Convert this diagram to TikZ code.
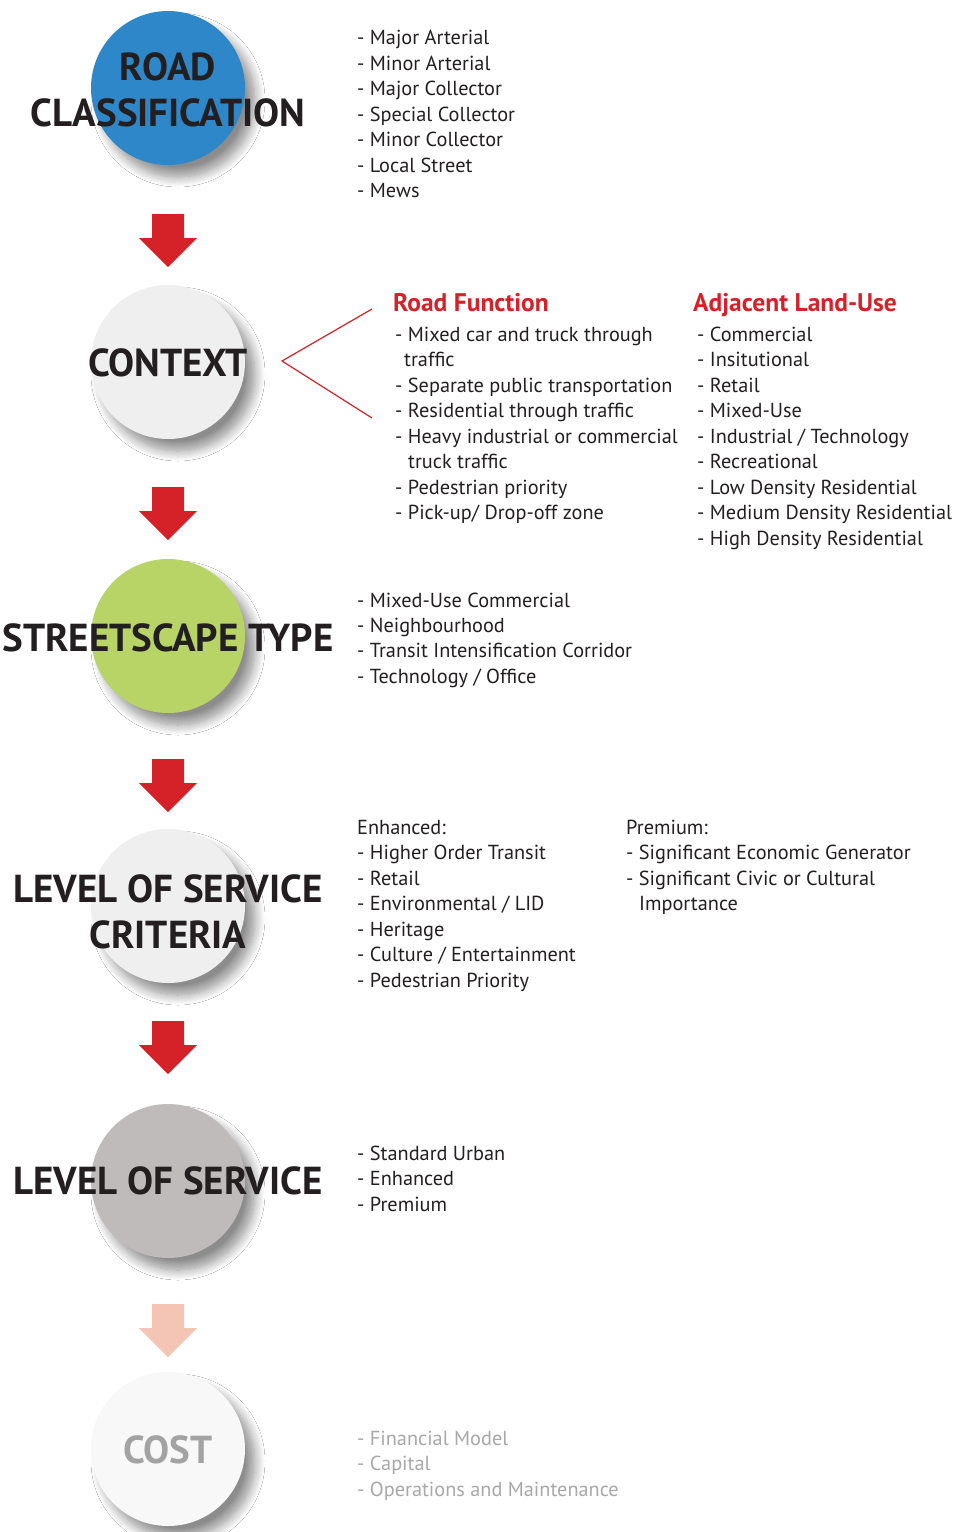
\documentclass[tikz,border=0pt]{standalone}
\usepackage{fontspec}
\setmainfont{PT Sans}
\usetikzlibrary{shadows.blur}
\definecolor{cblue}{HTML}{2E87C8}
\definecolor{cgreen}{HTML}{B8D366}
\definecolor{clight}{HTML}{EFEFEF}
\definecolor{cgray}{HTML}{C0BBBB}
\definecolor{cpale}{HTML}{F8F8F8}
\definecolor{tdark}{HTML}{231F20}
\definecolor{ared}{HTML}{D52229}
\definecolor{apale}{HTML}{F4C4B4}
\definecolor{tgray}{HTML}{A8A8A8}
\definecolor{cgtext}{HTML}{A3A3A3}
\tikzset{
  circ/.style={circle, minimum size=154pt, inner sep=0pt,
    blur shadow={shadow xshift=10pt, shadow yshift=-12pt, shadow blur radius=10pt, shadow blur steps=14, shadow opacity=45}},
  ttl/.style={anchor=base, inner sep=0pt, text=tdark, font=\fontsize{39}{43}\selectfont\bfseries},
  itm/.style={anchor=mid west, inner sep=0pt, text=tdark, font=\fontsize{20.3}{24}\selectfont},
  hdr/.style={anchor=mid west, inner sep=0pt, text=ared, font=\fontsize{25.5}{28}\selectfont\bfseries},
}
\newcommand\blockarrow[2]{\fill[#2] (#1) ++(-16,0) -- ++(32,0) -- ++(0,24) -- ++(13,0) -- ++(-29,29) -- ++(-29,-29) -- ++(13,0) -- cycle;}
\begin{document}
\begin{tikzpicture}[x=1pt,y=-1pt]
\useasboundingbox[fill=white] (0,0) rectangle (964,1532);
% circles
\node[circ, fill=cblue]  (c1) at (168,88) {};
\node[circ, fill=clight] (c2) at (168,362) {};
\node[circ, fill=cgreen] (c3) at (168,636) {};
\node[circ, fill=clight] (c4) at (168,906) {};
\node[circ, fill=cgray]  (c5) at (168,1181) {};
\node[circ, fill=cpale]  (c6) at (168,1449) {};
% titles
\node[ttl] (t1a) at (168,80) {ROAD};
\node[ttl] (t1b) at (168,126) {CLASSIFICATION};
\node[ttl] (t2) at (168,376) {CONTEXT};
\node[ttl] (t3) at (168,651) {STREETSCAPE TYPE};
\node[ttl] (t4a) at (168,902) {LEVEL OF SERVICE};
\node[ttl] (t4b) at (168,948) {CRITERIA};
\node[ttl] (t5) at (168,1194) {LEVEL OF SERVICE};
\node[ttl, text=cgtext] (t6) at (168,1463) {COST};
% arrows
\coordinate (a1) at (168,214);
\coordinate (a2) at (168,487);
\coordinate (a3) at (168,759);
\coordinate (a4) at (168,1021);
\coordinate (a5) at (168,1304);
\blockarrow{a1}{ared}
\blockarrow{a2}{ared}
\blockarrow{a3}{ared}
\blockarrow{a4}{ared}
\blockarrow{a5}{apale}
% context bracket
\coordinate (b1) at (372,309);
\coordinate (b2) at (372,418);
\node[inner sep=0pt] (bv) at (282,361) {};
\draw[ared, line width=1.2pt] (b1) -- (bv.center) -- (b2);
% lists
\begin{scope}[yshift=-5pt]
\foreach \y/\t [count=\i] in {37/{- Major Arterial},62.5/{- Minor Arterial},88/{- Major Collector},113.5/{- Special Collector},139/{- Minor Collector},164.5/{- Local Street},190/{- Mews}}
  \node[itm] (rc\i) at (357,\y) {\t};
\node[hdr] (h1) at (393,304) {Road Function};
\node[hdr] (h2) at (693,304) {Adjacent Land-Use};
\foreach \x/\y/\t [count=\i] in {395/334/{- Mixed car and truck through},404/359/{traffic},395/385/{- Separate public transportation},395/410/{- Residential through traffic},395/436/{- Heavy industrial or commercial},408/461/{truck traffic},395/487/{- Pedestrian priority},395/512/{- Pick-up/ Drop-off zone}}
  \node[itm] (rf\i) at (\x,\y) {\t};
\foreach \y/\t [count=\i] in {334/{- Commercial},359/{- Insitutional},385/{- Retail},410/{- Mixed-Use},436/{- Industrial / Technology},461/{- Recreational},487/{- Low Density Residential},512/{- Medium Density Residential},538/{- High Density Residential}}
  \node[itm] (lu\i) at (697,\y) {\t};
\foreach \y/\t [count=\i] in {600/{- Mixed-Use Commercial},625/{- Neighbourhood},650/{- Transit Intensification Corridor},676/{- Technology / Office}}
  \node[itm] (st\i) at (357,\y) {\t};
\foreach \y/\t [count=\i] in {827/{Enhanced:},852/{- Higher Order Transit},878/{- Retail},903/{- Environmental / LID},929/{- Heritage},954/{- Culture / Entertainment},980/{- Pedestrian Priority}}
  \node[itm] (en\i) at (357,\y) {\t};
\foreach \x/\y/\t [count=\i] in {626/827/{Premium:},626/852/{- Significant Economic Generator},626/878/{- Significant Civic or Cultural},639/903/{Importance}}
  \node[itm] (pr\i) at (\x,\y) {\t};
\foreach \y/\t [count=\i] in {1153/{- Standard Urban},1178/{- Enhanced},1204/{- Premium}}
  \node[itm] (ls\i) at (357,\y) {\t};
\foreach \y/\t [count=\i] in {1438/{- Financial Model},1463/{- Capital},1489/{- Operations and Maintenance}}
  \node[itm, text=tgray] (co\i) at (357,\y) {\t};
\end{scope}
\end{tikzpicture}
\end{document}
